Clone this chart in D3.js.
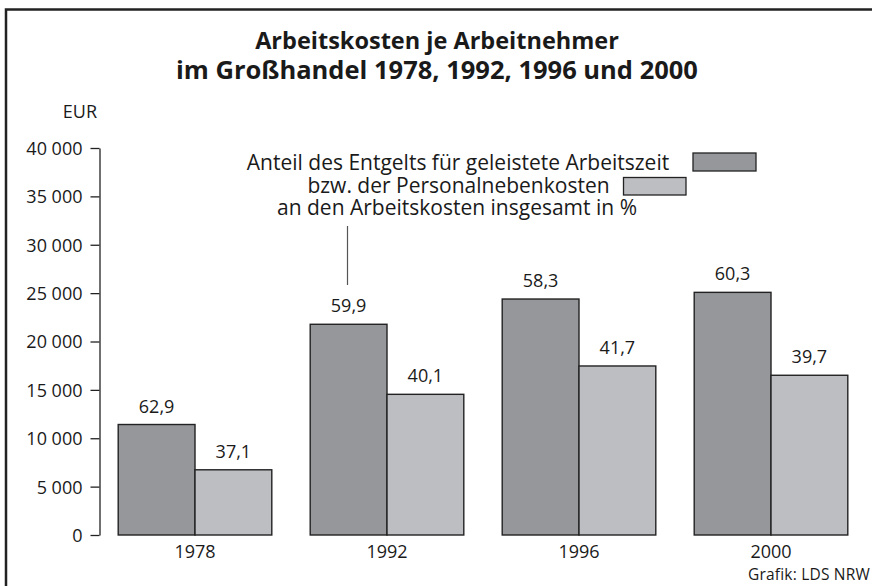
<!DOCTYPE html>
<html>
<head>
<meta charset="utf-8">
<script src="https://cdn.jsdelivr.net/npm/d3@7/dist/d3.min.js"></script>
<style>
html,body{margin:0;padding:0;background:#fff;}
svg{display:block;}
text{font-family:"Open Sans",sans-serif;fill:#1a1a1a;}
</style>
</head>
<body>
<svg id="chart" width="872" height="586"></svg>
<script>
const years = ["1978", "1992", "1996", "2000"];
const entgelt = [11420, 21780, 24390, 25080];
const nebenkosten = [6740, 14540, 17470, 16510];
const shareEntgelt = ["62,9", "59,9", "58,3", "60,3"];
const shareNeben = ["37,1", "40,1", "41,7", "39,7"];
const yTicks = [0, 5000, 10000, 15000, 20000, 25000, 30000, 35000, 40000];
const titleLines = ["Arbeitskosten je Arbeitnehmer", "im Großhandel 1978, 1992, 1996 und 2000"];
const legendLines = ["Anteil des Entgelts für geleistete Arbeitszeit", "bzw. der Personalnebenkosten", "an den Arbeitskosten insgesamt in %"];
const seriesNames = ["Entgelt", "Personalnebenkosten"];

const svg = d3.select("#chart");
const colors = {Entgelt: "#96979b", Personalnebenkosten: "#bdbec2"};

// frame
svg.append("path").attr("d", "M6,586 L6,9.5 L872,9.5")
  .attr("fill", "none").attr("stroke", "#222").attr("stroke-width", 2.5);

// title (one multi-line text)
const title = svg.append("text")
  .attr("x", 437).attr("y", 49)
  .attr("text-anchor", "middle")
  .attr("font-weight", "bold");
title.selectAll("tspan").data(titleLines).join("tspan")
  .attr("x", 437)
  .attr("dy", (d, i) => i === 0 ? 0 : 30)
  .attr("font-size", (d, i) => i === 0 ? 23.5 : 25.5)
  .text(d => d);

const x0 = d3.scaleBand().domain(years).range([99, 867]).paddingInner(0.2).paddingOuter(0.1);
const x1 = d3.scaleBand().domain(seriesNames).range([0, x0.bandwidth()]);
const y = d3.scaleLinear().domain([0, 40000]).range([535, 148]);

const loc = d3.formatLocale({decimal: ",", thousands: " ", grouping: [3], currency: ["", ""]});
const fmt = loc.format(",d");

const yAxis = svg.append("g").attr("transform", "translate(99.5,0)")
  .call(d3.axisLeft(y).tickValues(yTicks).tickFormat(fmt).tickSize(9).tickPadding(8).tickSizeOuter(0));
yAxis.select(".domain").attr("stroke", "#222").attr("stroke-width", 1.3);
yAxis.selectAll(".tick line").attr("stroke", "#222").attr("stroke-width", 1.3);
yAxis.selectAll(".tick text").attr("font-size", 18).attr("font-family", "Open Sans").attr("fill", "#1a1a1a").attr("dy", "0.36em");

svg.append("text").attr("x", 97).attr("y", 118).attr("text-anchor", "end")
  .attr("font-size", 18).text("EUR");

const rows = years.map((yr, i) => ({
  year: yr,
  vals: [
    {s: "Entgelt", v: entgelt[i], lab: shareEntgelt[i]},
    {s: "Personalnebenkosten", v: nebenkosten[i], lab: shareNeben[i]}
  ]
}));

const groups = svg.selectAll("g.grp").data(rows).join("g")
  .attr("class", "grp")
  .attr("transform", d => `translate(${x0(d.year)},0)`);

groups.selectAll("rect").data(d => d.vals).join("rect")
  .attr("x", d => x1(d.s))
  .attr("y", d => y(d.v))
  .attr("width", x1.bandwidth())
  .attr("height", d => y(0) - y(d.v))
  .attr("fill", d => colors[d.s])
  .attr("stroke", "#222").attr("stroke-width", 1.4);

groups.selectAll("text.val").data(d => d.vals).join("text")
  .attr("class", "val")
  .attr("x", d => x1(d.s) + x1.bandwidth() / 2)
  .attr("y", d => y(d.v) - 12)
  .attr("text-anchor", "middle")
  .attr("font-size", 18)
  .text(d => d.lab);

// category labels
svg.selectAll("text.cat").data(years).join("text")
  .attr("class", "cat")
  .attr("x", d => x0(d) + x0.bandwidth() / 2)
  .attr("y", 558)
  .attr("text-anchor", "middle")
  .attr("font-size", 18)
  .text(d => d);

// legend (one multi-line text)
const legendCenters = [458, 458.5, 457];
const legendDy = [0, 23, 22];
const legend = svg.append("text").attr("x", 458).attr("y", 170)
  .attr("text-anchor", "middle").attr("font-size", 21);
legend.selectAll("tspan").data(legendLines).join("tspan")
  .attr("x", (d, i) => legendCenters[i])
  .attr("dy", (d, i) => legendDy[i])
  .text(d => d);

svg.append("rect").attr("x", 693).attr("y", 153).attr("width", 63).attr("height", 18)
  .attr("fill", colors.Entgelt).attr("stroke", "#222").attr("stroke-width", 1.3);
svg.append("rect").attr("x", 623.5).attr("y", 177.5).attr("width", 62.5).attr("height", 17.5)
  .attr("fill", colors.Personalnebenkosten).attr("stroke", "#222").attr("stroke-width", 1.3);

// connector line
svg.append("line").attr("x1", 347.5).attr("x2", 347.5).attr("y1", 226).attr("y2", 285)
  .attr("stroke", "#555").attr("stroke-width", 1.2);

svg.append("text").attr("x", 870).attr("y", 580).attr("text-anchor", "end")
  .attr("font-size", 15.5).attr("letter-spacing", 0.2).text("Grafik: LDS NRW");
</script>
</body>
</html>
